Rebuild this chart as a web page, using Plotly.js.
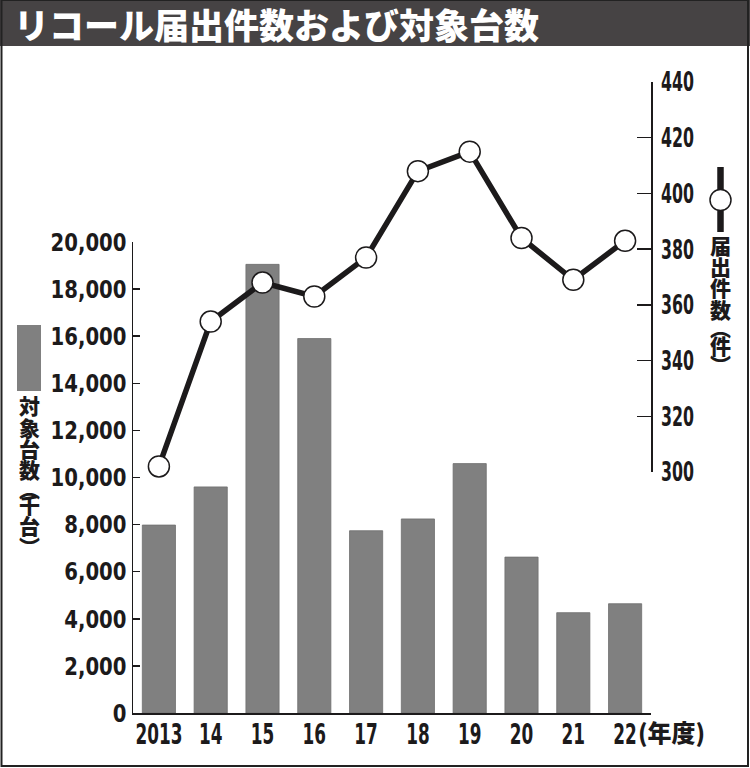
<!DOCTYPE html>
<html>
<head>
<meta charset="utf-8">
<script src="https://cdn.plot.ly/plotly-3.0.1.min.js"></script>
<style>html,body{margin:0;padding:0;background:#fff;}#chart{width:750px;height:768px;}</style>
</head>
<body>
<div id="chart"></div>
<script>
// ---- data ----
var years = ["2013","14","15","16","17","18","19","20","21","22"];
var vehicles = [7980, 9600, 19050, 15900, 7740, 8240, 10590, 6620, 4260, 4640]; // 対象台数(千台)
var recalls = [302, 354, 368, 363, 377, 408, 415, 384, 369, 383];              // 届出件数(件)
var leftTicks = [0, 2000, 4000, 6000, 8000, 10000, 12000, 14000, 16000, 18000, 20000];
var rightTicks = [300, 320, 340, 360, 380, 400, 420, 440];
var titleText = "リコール届出件数および対象台数";
var leftLegendChars = ["対","象","台","数","︵","千","台","︶"];
var rightLegendChars = ["届","出","件","数","︵","件","︶"];
var xSuffix = "(年度)";

// ---- layout geometry (pixels) ----
var L = 133, R = 651, T = 82, B = 713;
var W = R - L, H = B - T;
function px(x){ return (x - L) / W; }
function py(y){ return (B - y) / H; }

var numFont = "'DejaVu Sans Condensed', 'DejaVu Sans', sans-serif";
var cjkFont = "'Noto Sans CJK JP', 'Noto Sans CJK SC', sans-serif";
var ink = "#1c1a1b";

var traces = [
  {
    type: "bar", x: years, y: vehicles, xaxis: "x", yaxis: "y",
    marker: {color: "#808080", line: {color: "#6e6e6e", width: 0.8}},
    hoverinfo: "skip"
  },
  {
    type: "scatter", mode: "lines+markers", x: years, y: recalls, xaxis: "x", yaxis: "y2",
    line: {color: ink, width: 5.5},
    marker: {size: 21, color: "#ffffff", line: {color: ink, width: 1.5}},
    cliponaxis: false, hoverinfo: "skip"
  }
];

var annotations = [];
var leftCenters = [405, 427, 448, 469, 488, 504, 525, 546];
leftLegendChars.forEach(function(c, i){
  annotations.push({xref:"paper", yref:"paper", x: px(29), y: py(leftCenters[i]),
    xanchor:"center", yanchor:"middle", showarrow:false, text:c,
    font:{family: cjkFont, size: 21, color: ink, weight: 900}});
});
var rightCenters = [245, 266, 287, 309, 327, 345, 364];
rightLegendChars.forEach(function(c, i){
  annotations.push({xref:"paper", yref:"paper", x: px(720.5), y: py(rightCenters[i]),
    xanchor:"center", yanchor:"middle", showarrow:false, text:c,
    font:{family: cjkFont, size: 21, color: ink, weight: 900}});
});
annotations.push({xref:"paper", yref:"paper", x: px(636), y: py(731),
  xanchor:"left", yanchor:"middle", showarrow:false, text:xSuffix,
  font:{family: cjkFont, size: 24, color: ink, weight: 900}});
annotations.push({xref:"paper", yref:"paper", x: px(12), y: py(24),
  xanchor:"left", yanchor:"middle", showarrow:false, text:titleText,
  font:{family: cjkFont, size: 35, color: "#ffffff", weight: 900}});

var shapes = [
  {type:"rect", xref:"paper", yref:"paper", x0: px(0), x1: px(750), y0: py(46), y1: py(0),
   fillcolor:"#464344", line:{width:0}, layer:"below"},
  {type:"rect", xref:"paper", yref:"paper", x0: px(1.5), x1: px(748), y0: py(766), y1: py(0),
   fillcolor:"rgba(0,0,0,0)", line:{color:"#222", width:2}},
  {type:"rect", xref:"paper", yref:"paper", x0: px(17), x1: px(41), y0: py(391), y1: py(325),
   fillcolor:"#808080", line:{width:0}},
  {type:"line", xref:"paper", yref:"paper", x0: px(720.5), x1: px(720.5), y0: py(232), y1: py(167),
   line:{color: ink, width: 6.5}},
  {type:"circle", xref:"paper", yref:"paper", x0: px(710), x1: px(731), y0: py(210.5), y1: py(189.5),
   fillcolor:"#ffffff", line:{color: ink, width: 1.5}}
];

var layout = {
  width: 750, height: 768,
  margin: {l: L, r: 750 - R, t: T, b: 768 - B, pad: 0},
  paper_bgcolor: "#ffffff", plot_bgcolor: "rgba(0,0,0,0)",
  showlegend: false,
  bargap: 0.36,
  separators: ".,",
  xaxis: {
    type: "category", range: [-0.5, 9.5], domain: [0, 1], tickangle: 0,
    showline: true, linecolor: ink, linewidth: 1.5, ticks: "", showgrid: false,
    tickfont: {family: numFont, size: 28, color: ink, weight: "bold"},
    ticklabelstandoff: -4, fixedrange: true
  },
  yaxis: {
    domain: [0, py(242)], range: [0, 20000], tickvals: leftTicks, tickformat: ",",
    showline: true, linecolor: ink, linewidth: 1.5,
    ticks: "inside", ticklen: 7, tickwidth: 1.5, tickcolor: ink,
    showgrid: false, zeroline: false,
    tickfont: {family: numFont, size: 25, color: ink, weight: "bold"},
    ticklabelstandoff: 0, fixedrange: true
  },
  yaxis2: {
    domain: [py(472), 1], range: [300, 440], tickvals: rightTicks, anchor: "x", side: "right",
    showline: true, linecolor: ink, linewidth: 1.5,
    ticks: "inside", ticklen: 14, tickwidth: 1.5, tickcolor: ink,
    showgrid: false, zeroline: false,
    tickfont: {family: numFont, size: 27, color: ink, weight: "bold"},
    ticklabelstandoff: 3, fixedrange: true
  },
  annotations: annotations,
  shapes: shapes
};

// horizontally condense tick labels (narrow newspaper-style numerals)
function condense(selector, refText, targetWidth) {
  var nodes = Array.prototype.slice.call(document.querySelectorAll(selector));
  var ref = nodes.filter(function(n){ return n.textContent === refText; })[0];
  if (!ref) return;
  var f = targetWidth / ref.getComputedTextLength();
  nodes.forEach(function(n){
    var x = parseFloat(n.getAttribute("x")) || 0, y = parseFloat(n.getAttribute("y")) || 0;
    var t = n.getAttribute("transform") || "";
    n.setAttribute("transform", t + " translate(" + x + "," + y + ") scale(" + f + ",1) translate(" + (-x) + "," + (-y) + ")");
  });
}

Plotly.newPlot("chart", traces, layout, {displayModeBar: false, staticPlot: true}).then(function(){
  condense("g.ytick text", "20,000", 76);
  condense("g.y2tick text", "440", 33);
  condense("g.xtick text", "2013", 47);
});
</script>
</body>
</html>
